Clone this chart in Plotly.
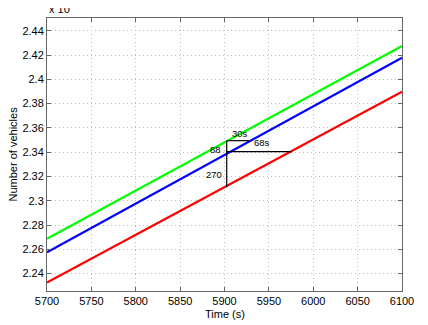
import plotly.graph_objects as go

# time axis (s) and cumulative vehicle counts
time = [5700, 5800, 5900, 6000, 6100]
green = [22688, 23085, 23482, 23878, 24274]
blue = [22576, 22976, 23376, 23777, 24178]
red = [22326, 22719, 23112, 23505, 23898]

# annotation: delay / queue markers
vert_t = [5902.5, 5902.5]
vert_v = [23495, 23111]
top_t = [5902.5, 5927.6]
top_v = [23495, 23495]
mid_t = [5902.5, 5975.7]
mid_v = [23404, 23404]
labels = ["30s", "88", "68s", "270"]
label_t = [5918, 5890, 5942, 5888]
label_v = [23553, 23425, 23477, 23219]

scale = 1e4

fig = go.Figure()
for vals, col in [(green, "#00ff00"), (blue, "#0000ff"), (red, "#ff0000")]:
    fig.add_trace(go.Scatter(x=time, y=[v / scale for v in vals], mode="lines",
                             line=dict(color=col, width=2.2), showlegend=False))

for tt, vv in [(vert_t, vert_v), (top_t, top_v), (mid_t, mid_v)]:
    fig.add_trace(go.Scatter(x=tt, y=[v / scale for v in vv], mode="lines",
                             line=dict(color="black", width=1.2), showlegend=False))

for txt, tt, vv in zip(labels, label_t, label_v):
    fig.add_annotation(x=tt, y=vv / scale, text=txt, showarrow=False,
                       font=dict(size=9.5, color="black"))

fig.add_annotation(x=0, y=1, xref="paper", yref="paper", xanchor="left", yanchor="bottom",
                   text="x 10<sup>4</sup>", showarrow=False, yshift=1,
                   font=dict(size=11, color="black"))

# axis titles placed by hand
fig.add_annotation(x=0, y=0.5, xref="paper", yref="paper", xshift=-35,
                   xanchor="center", yanchor="middle",
                   text="Number of vehicles", textangle=-90, showarrow=False,
                   font=dict(size=11, color="black"))
fig.add_annotation(x=0.5, y=0, xref="paper", yref="paper", yshift=-23,
                   xanchor="center", yanchor="middle",
                   text="Time (s)", showarrow=False,
                   font=dict(size=11, color="black"))

axis = dict(showline=True, linecolor="#666", linewidth=1, mirror="ticks",
            ticks="inside", ticklen=4, tickcolor="#666", automargin=False,
            showgrid=True, gridcolor="#bdbdbd", griddash="1px,3px", gridwidth=1,
            zeroline=False, tickfont=dict(size=11, color="black"))

# the page body adds an 8px offset, so margins are trimmed on top/left
fig.update_layout(
    width=428, height=325, autosize=False,
    margin=dict(l=39, r=34, t=10, b=42, autoexpand=False),
    plot_bgcolor="white", paper_bgcolor="white",
    font=dict(family="Liberation Sans, Arial, sans-serif", size=11, color="black"),
    xaxis=dict(axis, range=[5700, 6100], tickvals=list(range(5700, 6101, 50))),
    yaxis=dict(axis, range=[2.2257, 2.4505],
               tickvals=[2.24, 2.26, 2.28, 2.3, 2.32, 2.34, 2.36, 2.38, 2.4, 2.42, 2.44],
               ticktext=["2.24", "2.26", "2.28", "2.3", "2.32", "2.34", "2.36", "2.38", "2.4", "2.42", "2.44"]),
)

fig.write_html("out.html")
